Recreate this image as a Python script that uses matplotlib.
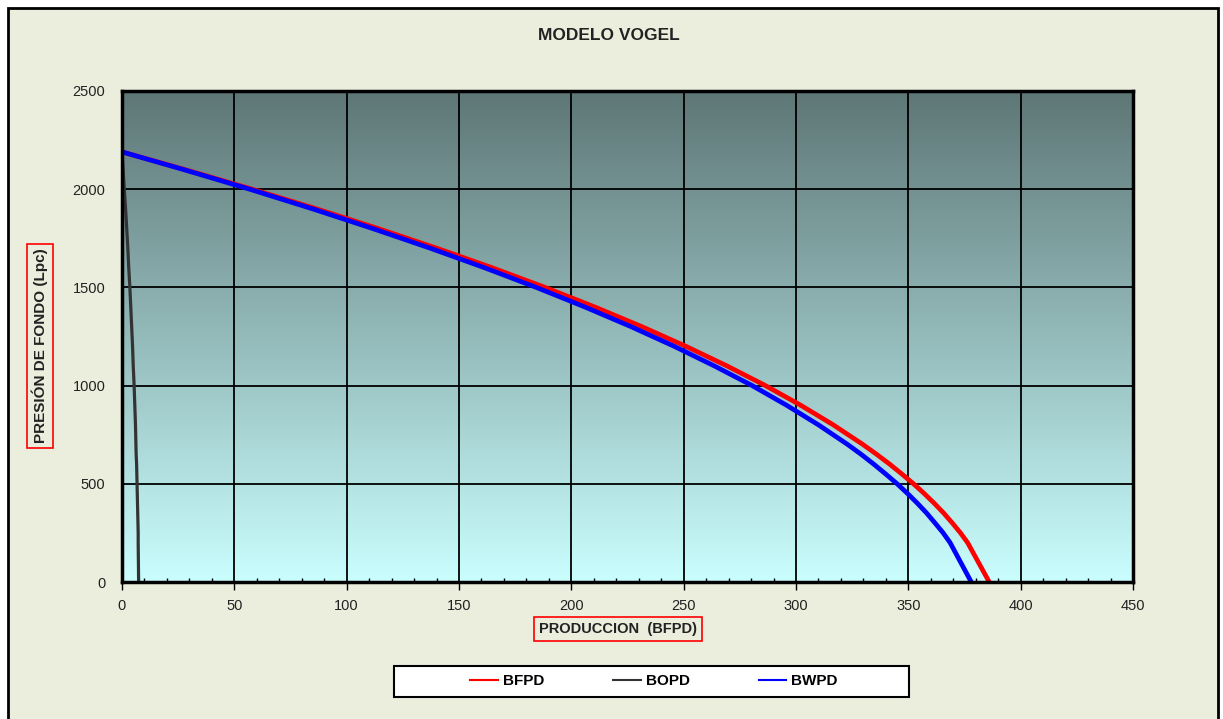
import numpy as np
import matplotlib.pyplot as plt
from matplotlib.patches import Rectangle
from matplotlib.lines import Line2D
from matplotlib.colors import LinearSegmentedColormap

plt.rcParams['font.family'] = ['Liberation Sans', 'DejaVu Sans']

# presion de fondo (Lpc)
pwf = [2190, 2100, 2000, 1900, 1800, 1700, 1600, 1500, 1400, 1300, 1200, 1100,
       1000, 900, 800, 700, 650, 600, 550, 500, 450, 400, 350, 300, 250, 200, 0]
# produccion (BFPD)
bfpd = [0, 28.0, 58.0, 86.6, 113.9, 140.0, 164.8, 188.3, 210.5, 231.4, 251.0, 269.3,
        286.4, 302.1, 316.6, 329.8, 335.9, 341.7, 347.1, 352.3, 357.1, 361.6, 365.8,
        369.6, 373.2, 376.4, 386.0]
bwpd = [0, 27.4, 56.8, 84.8, 111.5, 137.1, 161.4, 184.4, 206.1, 226.6, 245.8, 263.7,
        280.5, 295.8, 310.0, 323.0, 329.0, 334.6, 339.9, 345.0, 349.7, 354.1, 358.2,
        361.9, 365.5, 368.6, 378.0]
bopd = [0, 0.5, 1.0, 1.6, 2.1, 2.6, 3.0, 3.5, 3.9, 4.3, 4.7, 5.0,
        5.4, 5.7, 6.0, 6.2, 6.3, 6.5, 6.6, 6.7, 6.8, 6.9, 7.0, 7.1, 7.2, 7.2, 7.4]

W, H = 1223, 719
fig = plt.figure(figsize=(W / 100, H / 100), dpi=100, facecolor='white')

# marco exterior
fig.patches.append(Rectangle((8 / W, -0.1), 1210 / W, 1.1 - 8 / H, transform=fig.transFigure,
                             facecolor='#EBEEDD', edgecolor='black', lw=2, zorder=-10))

ax = fig.add_axes([122 / W, 1 - 582 / H, 1011 / W, 491 / H])
ax.set_xlim(0, 450)
ax.set_ylim(0, 2500)

# fondo degradado
cmap = LinearSegmentedColormap.from_list('fondo', ['#CAFEFE', '#5E7676'])
grad = np.linspace(0, 1, 256).reshape(-1, 1)
ax.imshow(grad, extent=[0, 450, 0, 2500], origin='lower', aspect='auto', cmap=cmap, zorder=0)

ax.set_xticks(np.arange(0, 451, 50))
ax.set_xticks(np.arange(0, 451, 10), minor=True)
ax.set_yticks(np.arange(0, 2501, 500))
ax.grid(True, which='major', color='black', lw=1.3, zorder=1)
ax.tick_params(axis='x', which='major', direction='out', length=6, width=1, pad=6,
               labelsize=10.5, labelcolor='#222222')
ax.tick_params(axis='x', which='minor', direction='in', length=3, width=1)
ax.tick_params(axis='y', length=0, pad=12, labelsize=10.5, labelcolor='#222222')
for s in ax.spines.values():
    s.set_linewidth(2.5)
    s.set_zorder(5)

ax.plot(bfpd, pwf, color='red', lw=3.4, zorder=3, label='BFPD')
ax.plot(bopd, pwf, color='#333333', lw=2.3, zorder=3, label='BOPD')
ax.plot(bwpd, pwf, color='blue', lw=3.4, zorder=4, label='BWPD')

fig.text(609 / W, 1 - 35 / H, 'MODELO VOGEL', ha='center', va='center',
         fontsize=12.5, fontweight='bold', color='#222222')
fig.text(618 / W, 1 - 629 / H, 'PRODUCCION  (BFPD)', ha='center', va='center',
         fontsize=10.5, fontweight='bold', color='#222222',
         bbox=dict(boxstyle='square,pad=0.35', facecolor='none', edgecolor='red', lw=1.2))
fig.text(40 / W, 1 - 346 / H, 'PRESIÓN DE FONDO (Lpc)', ha='center', va='center',
         rotation=90, fontsize=11, fontweight='bold', color='#222222',
         bbox=dict(boxstyle='square,pad=0.3', facecolor='none', edgecolor='red', lw=1.2))

# leyenda
fig.patches.append(Rectangle((394 / W, 1 - 697 / H), 515 / W, 31 / H, transform=fig.transFigure,
                             facecolor='white', edgecolor='black', lw=1.5, zorder=1))
handles = [Line2D([], [], color='red', lw=1.5), Line2D([], [], color='#333333', lw=1.5),
           Line2D([], [], color='blue', lw=1.5)]
fig.legend(handles, ['BFPD', 'BOPD', 'BWPD'], loc='center', bbox_to_anchor=(654 / W, 1 - 681 / H),
           ncol=3, frameon=False, prop={'weight': 'bold', 'size': 11}, handlelength=1.8,
           handletextpad=0.35, columnspacing=4.5)

fig.savefig('out.png', dpi=100, facecolor='white')
